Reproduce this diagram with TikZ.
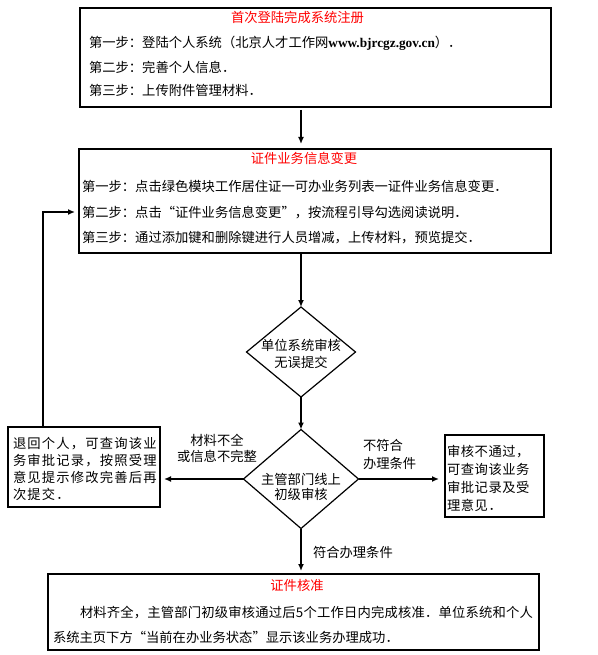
\documentclass[tikz,border=0pt]{standalone}
\usepackage{fontspec}
\setmainfont{Noto Sans CJK SC}
\newfontfamily\urlfont{Liberation Serif}
\newfontfamily\widea[LetterSpace=9]{Noto Sans CJK SC}
\newfontfamily\wideb[LetterSpace=1.5]{Noto Sans CJK SC}
\newfontfamily\widec[LetterSpace=4]{Noto Sans CJK SC}
\usetikzlibrary{arrows.meta,shapes.geometric}
\begin{document}
\begin{tikzpicture}[x=1pt,y=-1pt,
  every node/.style={font=\fontsize{13.3}{17}\selectfont, inner sep=0pt, outer sep=0pt},
  box/.style={draw, line width=2pt, rectangle},
  dia/.style={draw, line width=1.2pt, diamond},
  arr/.style={line width=1.6pt, -{Latex[length=7pt,width=6pt]}},
  ttl/.style={text=red, anchor=base},
  txt/.style={anchor=base west},
  ctr/.style={anchor=base}]
\useasboundingbox (0,0) rectangle (597,655);
% boxes
\node[box, minimum width=471pt, minimum height=99pt] (box1) at (315.5,57.5) {};
\node[box, minimum width=472pt, minimum height=104pt] (box2) at (315,201) {};
\node[dia, minimum width=109pt, minimum height=90pt] (d1) at (301,352) {};
\node[dia, minimum width=115pt, minimum height=99pt] (d2) at (301,479) {};
\node[box, minimum width=152pt, minimum height=80pt] (lbox) at (84,467) {};
\node[box, minimum width=99pt, minimum height=82pt] (rbox) at (494.5,476) {};
\node[box, minimum width=491pt, minimum height=76pt] (bbox) at (293.5,612) {};
% box1 text
\node[ttl] (t1) at (297.5,23) {首次登陆完成系统注册};
\node[txt] (t1a) at (89,48) {第一步：登陆个人系统（北京人才工作网{\urlfont\bfseries www.bjrcgz.gov.cn}）．};
\node[txt] (t1b) at (89,73) {第二步：完善个人信息．};
\node[txt] (t1c) at (89,96) {第三步：上传附件管理材料．};
% box2 text
\node[ttl] (t2) at (304,164) {证件业务信息变更};
\node[txt] (t2a) at (82,191) {第一步：点击绿色模块工作居住证一可办业务列表一证件业务信息变更．};
\node[txt] (t2b) at (82,217) {第二步：点击“证件业务信息变更”，按流程引导勾选阅读说明．};
\node[txt] (t2c) at (82,242) {第三步：通过添加键和删除键进行人员增减，上传材料，预览提交．};
% diamond text
\node[ctr] (d1a) at (301,350) {单位系统审核};
\node[ctr] (d1b) at (301,367) {无误提交};
\node[ctr] (d2a) at (301,484) {主管部门线上};
\node[ctr] (d2b) at (301,499) {初级审核};
% left box text
\node[txt, font=\widea\fontsize{13.3}{17}\selectfont] (l1) at (13,448) {退回个人，可查询该业};
\node[txt, font=\widea\fontsize{13.3}{17}\selectfont] (l2) at (13,465) {务审批记录，按照受理};
\node[txt, font=\widea\fontsize{13.3}{17}\selectfont] (l3) at (13,482) {意见提示修改完善后再};
\node[txt, font=\widea\fontsize{13.3}{17}\selectfont] (l4) at (13,499) {次提交．};
% right box text
\node[txt, font=\widec\fontsize{13.3}{17}\selectfont] (r1) at (447,456) {审核不通过，};
\node[txt, font=\widec\fontsize{13.3}{17}\selectfont] (r2) at (447,474) {可查询该业务};
\node[txt, font=\widec\fontsize{13.3}{17}\selectfont] (r3) at (447,492) {审批记录及受};
\node[txt, font=\widec\fontsize{13.3}{17}\selectfont] (r4) at (447,510) {理意见．};
% bottom box text
\node[ttl] (t3) at (297,590) {证件核准};
\node[txt, font=\wideb\fontsize{13.3}{17}\selectfont] (t3a) at (80,617) {材料齐全，主管部门初级审核通过后5个工作日内完成核准．单位系统和个人};
\node[txt] (t3b) at (53,642) {系统主页下方“当前在办业务状态”显示该业务办理成功．};
% edge labels
\node[ctr] (la1) at (217,445) {材料不全};
\node[ctr] (la2) at (217,461) {或信息不完整};
\node[txt] (lb1) at (363,450) {不符合};
\node[txt] (lb2) at (363,468) {办理条件};
\node[txt] (lc) at (313,557) {符合办理条件};
% connectors
\draw[arr, shorten <=3pt, shorten >=5pt] (d1.north |- box1.south) -- (d1.north |- box2.north);
\draw[arr] (d1.north |- box2.south) -- (d1.north);
\draw[arr] (d1.south) -- (d2.north);
\draw[arr, shorten >=4pt] (d2.west) -- (lbox.east |- d2.west);
\draw[arr, shorten >=6pt] (d2.east) -- (rbox.west |- d2.east);
\draw[arr, shorten >=3pt] (d2.south) -- (d2.south |- bbox.north);
\coordinate (fb) at (43,212);
\draw[arr, shorten >=4pt] (fb |- lbox.north) -- (fb) -- (fb -| box2.west);
\end{tikzpicture}
\end{document}
